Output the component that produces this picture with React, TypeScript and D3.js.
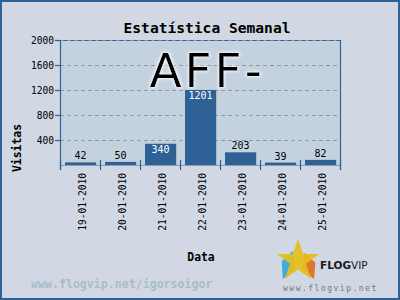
import React from "react";
import * as d3 from "d3";

const categories = ["19-01-2010", "20-01-2010", "21-01-2010", "22-01-2010", "23-01-2010", "24-01-2010", "25-01-2010"];
const visits = [42, 50, 340, 1201, 203, 39, 82];
const yTicks = [400, 800, 1200, 1600, 2000];
const title = "Estatística Semanal";
const overlayText = "AFF-";
const yLabel = "Visitas";
const xLabel = "Data";
const footerLeft = "www.flogvip.net/igorsoigor";
const footerRight = "www.flogvip.net";

const W = 400, H = 300;
const M = { left: 60, right: 340, top: 40, bottom: 165 };
const BG = "#d1d8e3";
const PLOT_BG = "#c4d2df";
const BLUE = "#2e6195";
const GRID = "#8c9bab";
const MONO = "'DejaVu Sans Mono', monospace";

export default function App() {
  const x = d3.scaleBand<string>().domain(categories).range([M.left, M.right]).paddingInner(0).paddingOuter(0);
  const y = d3.scaleLinear().domain([0, 2000]).range([M.bottom, M.top]);
  const bw = x.bandwidth();
  const barW = bw * 0.78;
  const boundaries = categories.map((c) => x(c)!).concat([M.right]);
  const star = d3.symbol().type(d3.symbolStar).size(560)()!;
  const diamond = d3.symbol().type(d3.symbolDiamond).size(170)()!;

  return (
    <svg width={W} height={H} style={{ position: "absolute", left: 0, top: 0, display: "block" }}>
      <defs>
        <filter id="glow" x="-20%" y="-20%" width="140%" height="140%">
          <feMorphology in="SourceAlpha" operator="dilate" radius="1" result="d" />
          <feGaussianBlur in="d" stdDeviation="1.5" result="b" />
          <feFlood floodColor="#ffffff" floodOpacity="0.8" />
          <feComposite in2="b" operator="in" result="g" />
          <feMerge>
            <feMergeNode in="g" />
            <feMergeNode in="SourceGraphic" />
          </feMerge>
        </filter>
      </defs>
      <rect x={0} y={0} width={W} height={H} fill={BG} />
      <rect x={1} y={1} width={W - 2} height={H - 2} fill="none" stroke={BLUE} strokeWidth={2} />

      <text x={207} y={33} textAnchor="middle" fontFamily={MONO} fontSize={14.6} fontWeight="bold" fill="#000">{title}</text>

      <rect x={M.left} y={M.top} width={M.right - M.left} height={M.bottom - M.top} fill={PLOT_BG} />

      {yTicks.map((t) => (
        <line key={"g" + t} x1={M.left} x2={M.right} y1={y(t) + 0.5} y2={y(t) + 0.5} stroke={GRID} strokeDasharray="4,3" strokeWidth={1} />
      ))}
      <line x1={M.left} x2={M.right} y1={M.top + 0.5} y2={M.top + 0.5} stroke={BLUE} strokeDasharray="4,3" strokeDashoffset={-3.5} strokeWidth={1} />

      <text x={207} y={87} textAnchor="middle" fontFamily="'DejaVu Sans', sans-serif" fontSize={47} letterSpacing={3} fill="#000" filter="url(#glow)">{overlayText}</text>

      {categories.map((c, i) => {
        const v = visits[i];
        const bx = x(c)! + 5;
        const by = y(v);
        const h = M.bottom - by;
        const inside = h > 15;
        return (
          <g key={c}>
            <rect x={bx} y={by} width={barW} height={h} fill={BLUE} />
            <text x={bx + barW / 2} y={inside ? by + 9.5 : by - 3} textAnchor="middle" fontFamily={MONO} fontSize={10} fill={inside ? "#ffffff" : "#000"}>{v}</text>
          </g>
        );
      })}

      <line x1={M.left} x2={M.right} y1={M.bottom + 0.5} y2={M.bottom + 0.5} stroke={GRID} strokeWidth={1} />
      <line x1={M.left + 0.5} x2={M.left + 0.5} y1={M.top} y2={M.bottom + 5} stroke={BLUE} strokeWidth={1.2} />
      <line x1={M.right + 0.5} x2={M.right + 0.5} y1={M.top} y2={M.bottom + 5} stroke={BLUE} strokeWidth={1.2} />
      {boundaries.map((b, i) => (
        <line key={"b" + i} x1={b + 0.5} x2={b + 0.5} y1={M.bottom - 5} y2={M.bottom + 5} stroke={BLUE} strokeWidth={1.2} />
      ))}
      {yTicks.map((t) => (
        <g key={"t" + t}>
          <line x1={M.left - 5} x2={M.left} y1={y(t) + 0.5} y2={y(t) + 0.5} stroke={BLUE} strokeWidth={1.2} />
          <text x={M.left - 6} y={y(t) + 3.5} textAnchor="end" fontFamily={MONO} fontSize={9.6} fill="#000">{t}</text>
        </g>
      ))}

      {categories.map((c) => {
        const cx = x(c)! + bw / 2 + 6;
        return (
          <text key={"x" + c} transform={`translate(${cx},173) rotate(-90)`} textAnchor="end" fontFamily={MONO} fontSize={9.6} fill="#000">{c}</text>
        );
      })}

      <text transform="translate(21,148) rotate(-90)" textAnchor="middle" fontFamily={MONO} fontSize={11.4} fontWeight="bold" fill="#000">{yLabel}</text>
      <text x={201} y={261} textAnchor="middle" fontFamily={MONO} fontSize={11.4} fontWeight="bold" fill="#000">{xLabel}</text>

      <text x={31} y={288} fontFamily={MONO} fontSize={11.6} fontWeight="bold" fill="#a9bccb">{footerLeft}</text>

      <g>
        <path d={diamond} transform="translate(288,265) scale(1,1.3) rotate(25)" fill="#2aa8e0" opacity={0.9} />
        <path d={diamond} transform="translate(309,266) scale(1,1.2) rotate(-25)" fill="#e06a1a" opacity={0.9} />
        <path d={star} transform="translate(298,261)" fill="#e3bf1c" opacity={0.92} />
      </g>
      <text x={320} y={269} fontFamily="'DejaVu Sans', sans-serif" fontSize={10.5} fill="#1a1a1a">
        <tspan fontWeight="bold">FLOG</tspan><tspan>VIP</tspan>
      </text>
      <text x={283} y={291} fontFamily={MONO} fontSize={8} letterSpacing={1.5} fill="#6b7a88">{footerRight}</text>
    </svg>
  );
}
